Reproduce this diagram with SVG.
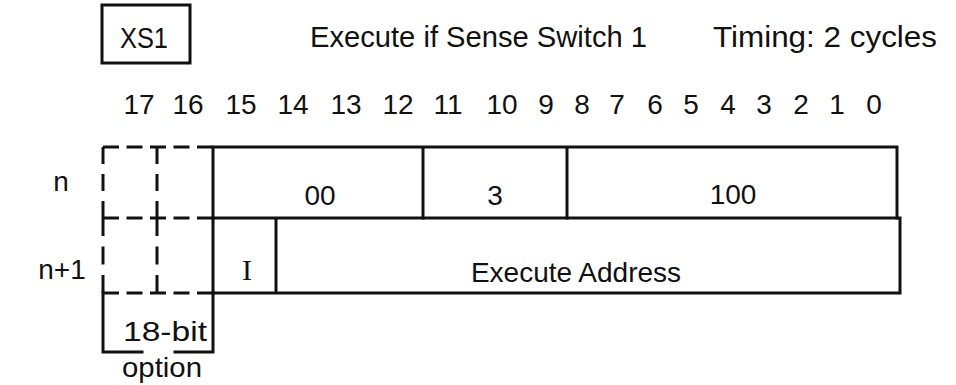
<svg xmlns="http://www.w3.org/2000/svg" width="956" height="385" viewBox="0 0 956 385">
<style>
text{font-family:"Liberation Sans",Arial,sans-serif;fill:#111;}
.t{font-size:28px;}
.h{font-size:30px;}
.c{text-anchor:middle;}
.ln{stroke:#111;stroke-width:3;fill:none;stroke-linecap:square;}
.dh{stroke:#111;stroke-width:3;fill:none;stroke-dasharray:16 7.5;}
.dv1{stroke:#111;stroke-width:3;fill:none;stroke-dasharray:17 10;}
.dv2{stroke:#111;stroke-width:3;fill:none;stroke-dasharray:18 10.5;}
</style>
<rect width="956" height="385" fill="#fff"/>
<g id="mnemonic">
<rect x="102" y="5" width="88" height="58" class="ln"/>
<text class="h c" x="144" y="48" textLength="48" lengthAdjust="spacingAndGlyphs">XS1</text>
</g>
<g id="description">
<text class="h" x="310" y="47" textLength="337" lengthAdjust="spacingAndGlyphs">Execute if Sense Switch 1</text>
<text class="h" x="713" y="47" textLength="224" lengthAdjust="spacingAndGlyphs">Timing:  2 cycles</text>
</g>
<g id="bit-numbers">
<text class="t c" x="139" y="114">17</text>
<text class="t c" x="188" y="114">16</text>
<text class="t c" x="241" y="114">15</text>
<text class="t c" x="293" y="114">14</text>
<text class="t c" x="346" y="114">13</text>
<text class="t c" x="398" y="114">12</text>
<text class="t c" x="448" y="114">11</text>
<text class="t c" x="502" y="114">10</text>
<text class="t c" x="546" y="114">9</text>
<text class="t c" x="582" y="114">8</text>
<text class="t c" x="617" y="114">7</text>
<text class="t c" x="655" y="114">6</text>
<text class="t c" x="691" y="114">5</text>
<text class="t c" x="728" y="114">4</text>
<text class="t c" x="764" y="114">3</text>
<text class="t c" x="801" y="114">2</text>
<text class="t c" x="837" y="114">1</text>
<text class="t c" x="874" y="114">0</text>
</g>
<g id="row-labels">
<text class="t c" x="61" y="191">n</text>
<text class="t c" x="62" y="279">n+1</text>
</g>
<g id="option-bits">
<line class="dh" x1="103" y1="147" x2="213" y2="147"/>
<line class="dh" x1="103" y1="218" x2="213" y2="218"/>
<line class="dh" x1="103" y1="293" x2="213" y2="293"/>
<line class="dv1" x1="103" y1="147" x2="103" y2="218"/>
<line class="dv2" x1="103" y1="218" x2="103" y2="293"/>
<line class="dv1" x1="157" y1="147" x2="157" y2="218"/>
<line class="dv2" x1="157" y1="218" x2="157" y2="293"/>
</g>
<g id="option-label">
<path class="ln" d="M103 293 V352 H142 M175 352 H213 V293"/>
<text class="t c" x="165" y="341" textLength="84" lengthAdjust="spacingAndGlyphs">18-bit</text>
<text class="t c" x="162" y="377" textLength="80" lengthAdjust="spacingAndGlyphs">option</text>
</g>
<g id="word-n">
<path class="ln" d="M213 147 H897 V218 M213 147 V218 M423 147 V218 M567 147 V218"/>
<text class="t c" x="320" y="205">00</text>
<text class="t c" x="495" y="205">3</text>
<text class="t c" x="733" y="204">100</text>
</g>
<g id="word-n1">
<path class="ln" d="M213 218 H900 V293 H213 Z M276 218 V293"/>
<text class="c" x="247" y="280" style="font-family:'Liberation Serif',serif;font-size:30px">I</text>
<text class="t c" x="576" y="282">Execute Address</text>
</g>
<g id="connectors"></g>
</svg>
